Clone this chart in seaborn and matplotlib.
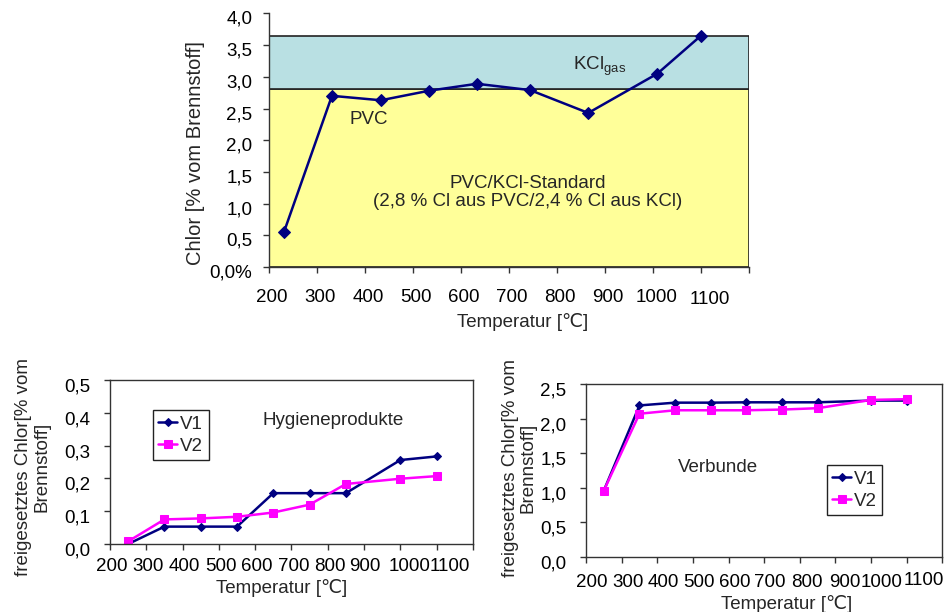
import matplotlib
matplotlib.use("Agg")
import matplotlib.pyplot as plt
import seaborn as sns
import pandas as pd
from matplotlib.patches import Rectangle
from matplotlib.ticker import FuncFormatter, FixedLocator
from matplotlib.transforms import ScaledTranslation

sns.set_theme(style="white")
plt.rcParams['font.family'] = ['Liberation Sans', 'DejaVu Sans']
plt.rcParams['mathtext.fontset'] = 'custom'
plt.rcParams['mathtext.rm'] = 'Liberation Sans'

# ---------------- data ----------------
top_temp = [231, 331, 433, 533, 633, 744, 865, 1009, 1100]
top_pvc = [0.55, 2.70, 2.63, 2.78, 2.89, 2.79, 2.43, 3.05, 3.65]
band_yellow = (0.0, 2.8)
band_blue = (2.8, 3.65)

temp = [250, 350, 450, 550, 650, 750, 850, 1000, 1100]
hyg_v1 = [0.0, 0.053, 0.053, 0.053, 0.155, 0.155, 0.155, 0.256, 0.267]
hyg_v2 = [0.008, 0.075, 0.078, 0.083, 0.096, 0.12, 0.183, 0.199, 0.207]
verb_v1 = [0.96, 2.19, 2.23, 2.23, 2.235, 2.235, 2.235, 2.26, 2.26]
verb_v2 = [0.96, 2.07, 2.12, 2.12, 2.12, 2.13, 2.15, 2.27, 2.28]

x_ticks = [200, 300, 400, 500, 600, 700, 800, 900, 1000, 1100, 1200]
x_labels = ['200', '300', '400', '500', '600', '700', '800', '900', '1000', '1100', '']

NAVY = '#000080'
MAG = '#ff00ff'
SPINE = '#333333'
FS = 13.5

fig = plt.figure(figsize=(9.44, 6.12), dpi=100)


def comma(v, pos=None):
    return f"{v:.1f}".replace('.', ',')


def style_axes(ax, box=True, xpad=4, ypad=8):
    for s in ['left', 'bottom', 'top', 'right']:
        ax.spines[s].set_color(SPINE)
        ax.spines[s].set_linewidth(1.0)
        ax.spines[s].set_visible(box or s in ('left', 'bottom'))
    ax.tick_params(axis='both', direction='out', length=4, width=1, color=SPINE,
                   labelsize=FS, labelcolor='black')
    ax.tick_params(axis='x', bottom=True, pad=xpad)
    ax.tick_params(axis='y', left=True, pad=ypad)
    ax.set_xlim(200, 1200)
    ax.xaxis.set_major_locator(FixedLocator(x_ticks))
    ax.set_xticklabels(x_labels)
    ax.grid(False)


def shift_ticklabels(ax, xshift, xshift_y, yshift):
    for tk, dx, dy in zip(ax.xaxis.get_major_ticks(), xshift, xshift_y):
        tk.label1.set_transform(tk.label1.get_transform() +
                                ScaledTranslation(dx / 100, -dy / 100, fig.dpi_scale_trans))
    for tk in ax.yaxis.get_major_ticks():
        tk.label1.set_transform(tk.label1.get_transform() +
                                ScaledTranslation(0, -yshift / 100, fig.dpi_scale_trans))


LEG = dict(fontsize=FS, frameon=True, fancybox=False, edgecolor='#222222', framealpha=1,
           handlelength=1.0, handletextpad=0.15, borderpad=0.3, borderaxespad=0,
           labelspacing=0.25)

# ---------------- top chart ----------------
ax1 = fig.add_axes([0.2850, 0.5637, 0.5085, 0.4144])
ax1.set_facecolor('white')
style_axes(ax1, box=False, xpad=12, ypad=8)
ax1.add_patch(Rectangle((200, band_yellow[0]), 1000, band_yellow[1] - band_yellow[0],
                        facecolor='#ffff99', edgecolor='#222222', linewidth=1.2, zorder=1))
ax1.add_patch(Rectangle((200, band_blue[0]), 1000, band_blue[1] - band_blue[0],
                        facecolor='#b9e0e3', edgecolor='#222222', linewidth=1.2, zorder=1))
df_top = pd.DataFrame({'T': top_temp, 'Cl': top_pvc})
sns.lineplot(data=df_top, x='T', y='Cl', ax=ax1, color=NAVY, marker='D', markersize=6.5,
             markeredgecolor=NAVY, linewidth=1.8, zorder=3)
ax1.set_ylim(0, 4.0)
ax1.set_yticks([0, 0.5, 1.0, 1.5, 2.0, 2.5, 3.0, 3.5, 4.0])
ax1.yaxis.set_major_formatter(FuncFormatter(lambda v, p: '0,0%' if v == 0 else comma(v)))
ax1.set_xlabel('Temperatur [℃]', fontsize=FS)
ax1.set_ylabel('Chlor [% vom Brennstoff]', fontsize=14.5)
ax1.xaxis.set_label_coords(0.528, -0.182)
ax1.yaxis.set_label_coords(-0.133, 0.45)
ax1.text(889, 3.17, r'KCl$_\mathregular{gas}$', fontsize=FS, ha='center', va='center', zorder=4)
ax1.text(407, 2.33, 'PVC', fontsize=FS, ha='center', va='center', zorder=4)
ax1.text(739, 1.175, 'PVC/KCl-Standard\n(2,8 % Cl aus PVC/2,4 % Cl aus KCl)', fontsize=FS,
         ha='center', va='center', linespacing=1.15, zorder=4)
shift_ticklabels(ax1, [3, 3, 3, 3, 3, 3, 3, 3, 4, 9, 0], [0, 0, 0, 0, 0, 0, 0, 0, 0, 2, 0], 4)

# ---------------- bottom left ----------------
ax2 = fig.add_axes([0.1165, 0.1111, 0.3845, 0.2680])
style_axes(ax2, xpad=6, ypad=10)
df_h = pd.DataFrame({'T': temp * 2, 'Cl': hyg_v1 + hyg_v2,
                     'Serie': ['V1'] * len(temp) + ['V2'] * len(temp)})
sns.lineplot(data=df_h[df_h.Serie == 'V1'], x='T', y='Cl', ax=ax2, color=NAVY, marker='D',
             markersize=4, markeredgecolor=NAVY, linewidth=1.8, label='V1')
sns.lineplot(data=df_h[df_h.Serie == 'V2'], x='T', y='Cl', ax=ax2, color=MAG, marker='s',
             markersize=6, markeredgecolor=MAG, linewidth=1.8, label='V2')
ax2.set_ylim(0, 0.5)
ax2.set_yticks([0, 0.1, 0.2, 0.3, 0.4, 0.5])
ax2.yaxis.set_major_formatter(FuncFormatter(comma))
ax2.set_xlabel('Temperatur [℃]', fontsize=FS)
ax2.set_ylabel('freigesetztes Chlor[% vom\nBrennstoff]', fontsize=FS, linespacing=1.1)
ax2.xaxis.set_label_coords(0.474, -0.213)
ax2.yaxis.set_label_coords(-0.165, 0.47)
ax2.text(814, 0.378, 'Hygieneprodukte', fontsize=FS, ha='center', va='center')
ax2.legend(loc='upper left', bbox_to_anchor=(0.118, 0.817), **LEG)
shift_ticklabels(ax2, [2, 2, 2, 2, 2, 2, 2, 1, 9, 13, 0], [0] * 11, 5)

# ---------------- bottom right ----------------
ax3 = fig.add_axes([0.6208, 0.0899, 0.3775, 0.2827])
style_axes(ax3, xpad=8, ypad=10)
df_v = pd.DataFrame({'T': temp * 2, 'Cl': verb_v1 + verb_v2,
                     'Serie': ['V1'] * len(temp) + ['V2'] * len(temp)})
sns.lineplot(data=df_v[df_v.Serie == 'V1'], x='T', y='Cl', ax=ax3, color=NAVY, marker='D',
             markersize=4, markeredgecolor=NAVY, linewidth=1.8, label='V1')
sns.lineplot(data=df_v[df_v.Serie == 'V2'], x='T', y='Cl', ax=ax3, color=MAG, marker='s',
             markersize=6, markeredgecolor=MAG, linewidth=1.8, label='V2')
ax3.set_ylim(0, 2.5)
ax3.set_yticks([0, 0.5, 1.0, 1.5, 2.0, 2.5])
ax3.yaxis.set_major_formatter(FuncFormatter(comma))
ax3.set_xlabel('Temperatur [℃]', fontsize=FS)
ax3.set_ylabel('freigesetztes Chlor[% vom\nBrennstoff]', fontsize=FS, linespacing=1.1)
ax3.xaxis.set_label_coords(0.563, -0.218)
ax3.yaxis.set_label_coords(-0.138, 0.514)
ax3.text(570, 1.30, 'Verbunde', fontsize=FS, ha='center', va='center')
ax3.legend(loc='upper left', bbox_to_anchor=(0.675, 0.532), **LEG)
shift_ticklabels(ax3, [6, 6, 6, 6, 6, 6, 7, 9, 10, 17, 0], [0] * 9 + [-2, 0], 5)

fig.savefig('out.png', dpi=100, facecolor='white')
